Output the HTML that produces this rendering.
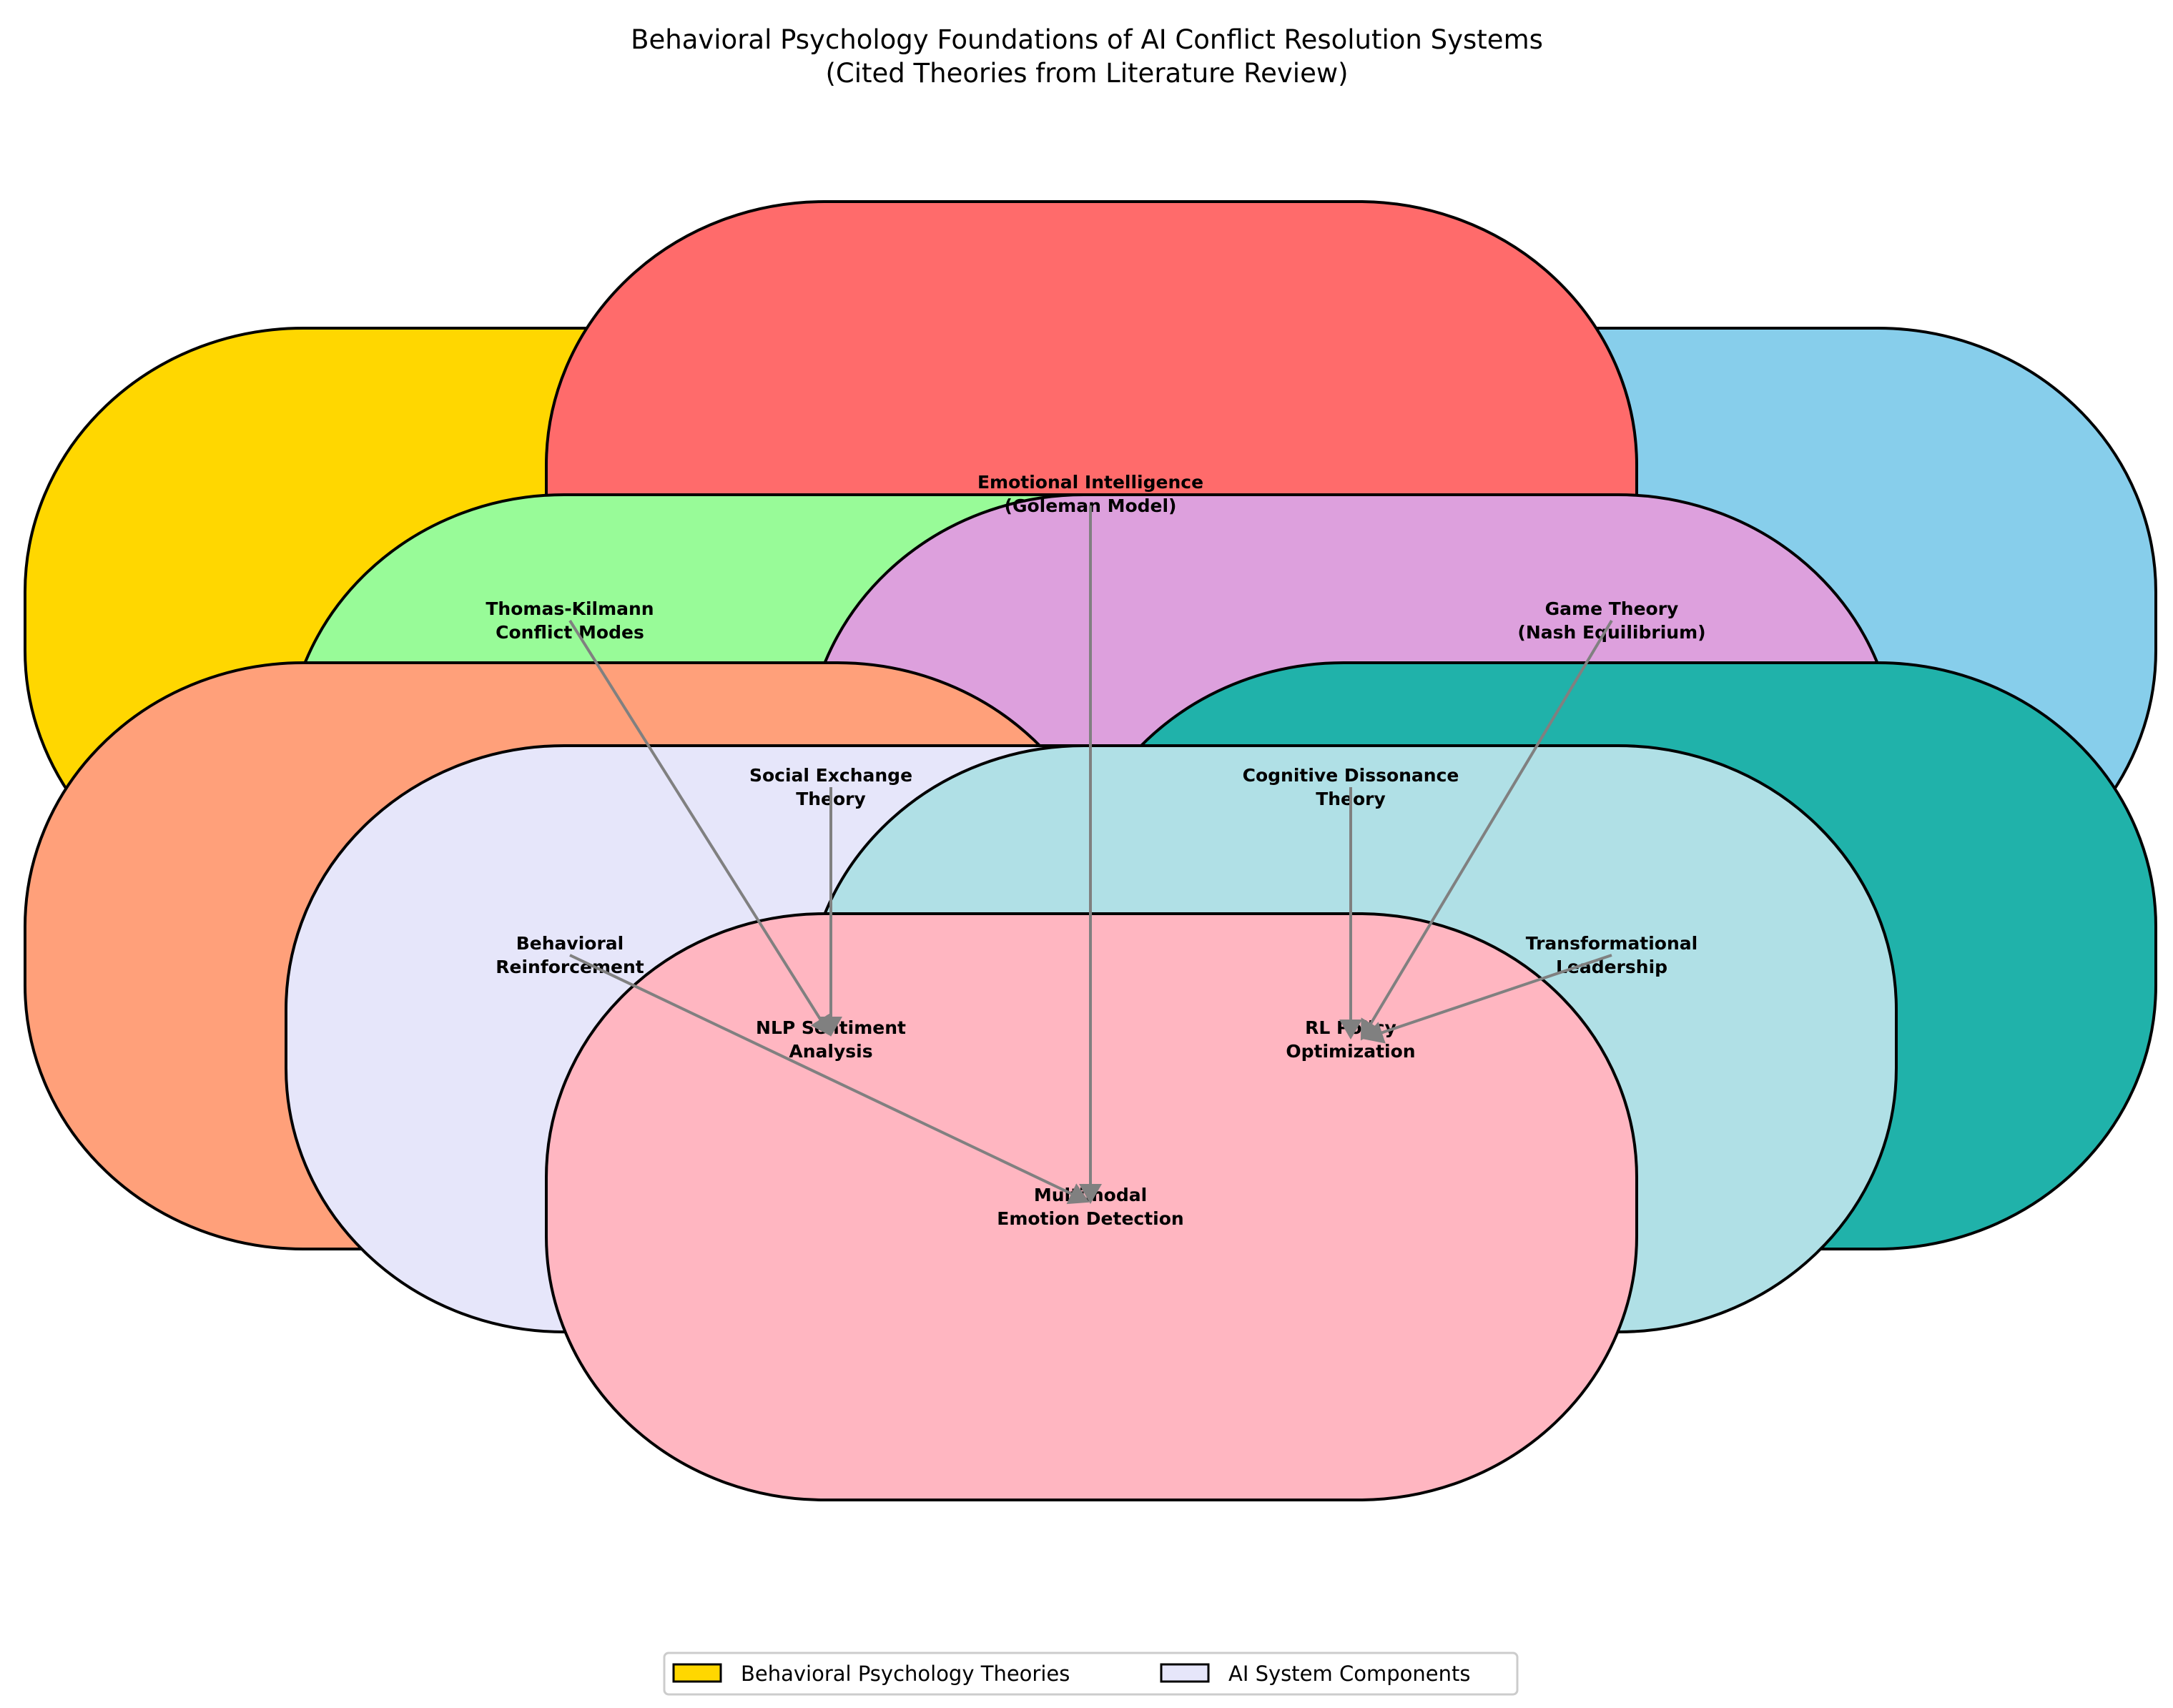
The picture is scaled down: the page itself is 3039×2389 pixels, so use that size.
<!DOCTYPE html>
<html><head><meta charset="utf-8"><style>
html,body{margin:0;padding:0;background:#fff;}
svg{display:block;}
text{font-family:"DejaVu Sans","Liberation Sans",sans-serif;}
.l{font-size:25px;font-weight:bold;fill:#000;text-anchor:middle;}
</style></head><body>
<svg width="3039" height="2389" viewBox="0 0 3039 2389" xmlns="http://www.w3.org/2000/svg">
<defs>
<marker id="a" markerWidth="8" markerHeight="8" refX="6" refY="4" orient="auto" markerUnits="strokeWidth">
<path d="M0,0 L7,4 L0,8 z" fill="#808080"/></marker>
</defs>
<text x="1520" y="68" font-size="37" text-anchor="middle" fill="#000">Behavioral Psychology Foundations of AI Conflict Resolution Systems</text>
<text x="1520" y="115" font-size="37" text-anchor="middle" fill="#000">(Cited Theories from Literature Review)</text>
<g stroke="#000" stroke-width="4">
<rect x="35" y="459" width="1525" height="820" rx="389" ry="369" fill="#FFD700"/>
<rect x="1490" y="459" width="1525" height="820" rx="389" ry="369" fill="#87CEEB"/>
<rect x="764" y="282" width="1525" height="820" rx="389" ry="369" fill="#FF6B6B"/>
<rect x="400" y="692" width="1525" height="820" rx="389" ry="369" fill="#98FB98"/>
<rect x="1127" y="692" width="1525" height="820" rx="389" ry="369" fill="#DDA0DD"/>
<rect x="35" y="927" width="1525" height="820" rx="389" ry="369" fill="#FFA07A"/>
<rect x="1490" y="927" width="1525" height="820" rx="389" ry="369" fill="#20B2AA"/>
<rect x="400" y="1043" width="1525" height="820" rx="389" ry="369" fill="#E6E6FA"/>
<rect x="1127" y="1043" width="1525" height="820" rx="389" ry="369" fill="#B0E0E6"/>
<rect x="764" y="1278" width="1525" height="820" rx="389" ry="369" fill="#FFB6C1"/>
</g>
<g class="l">
<text class="l" x="1525" y="683">Emotional Intelligence</text><text class="l" x="1525" y="716">(Goleman Model)</text>
<text class="l" x="797" y="860">Thomas-Kilmann</text><text class="l" x="797" y="893">Conflict Modes</text>
<text class="l" x="2254" y="860">Game Theory</text><text class="l" x="2254" y="893">(Nash Equilibrium)</text>
<text class="l" x="1162" y="1093">Social Exchange</text><text class="l" x="1162" y="1126">Theory</text>
<text class="l" x="1889" y="1093">Cognitive Dissonance</text><text class="l" x="1889" y="1126">Theory</text>
<text class="l" x="797" y="1328">Behavioral</text><text class="l" x="797" y="1361">Reinforcement</text>
<text class="l" x="2254" y="1328">Transformational</text><text class="l" x="2254" y="1361">Leadership</text>
<text class="l" x="1162" y="1446">NLP Sentiment</text><text class="l" x="1162" y="1479">Analysis</text>
<text class="l" x="1889" y="1446">RL Policy</text><text class="l" x="1889" y="1479">Optimization</text>
<text class="l" x="1525" y="1680">Multimodal</text><text class="l" x="1525" y="1713">Emotion Detection</text>
</g>
<g stroke="#808080" stroke-width="4" fill="none" marker-end="url(#a)">
<line x1="1525" y1="707" x2="1525" y2="1680"/>
<line x1="797" y1="868" x2="1160" y2="1446"/>
<line x1="1162" y1="1101" x2="1162" y2="1446"/>
<line x1="797" y1="1336" x2="1520" y2="1680"/>
<line x1="1889" y1="1101" x2="1889" y2="1450"/>
<line x1="2254" y1="868" x2="1905" y2="1452"/>
<line x1="2254" y1="1336" x2="1910" y2="1452"/>
</g>
<rect x="929" y="2312" width="1193" height="58" rx="6" fill="#fff" stroke="#ccc" stroke-width="3"/>
<rect x="942" y="2328" width="66" height="24" fill="#FFD700" stroke="#000" stroke-width="3"/>
<text x="1036" y="2351" font-size="29" fill="#000">Behavioral Psychology Theories</text>
<rect x="1624" y="2328" width="66" height="24" fill="#E6E6FA" stroke="#000" stroke-width="3"/>
<text x="1718" y="2351" font-size="29" fill="#000">AI System Components</text>
</svg>
</body></html>
